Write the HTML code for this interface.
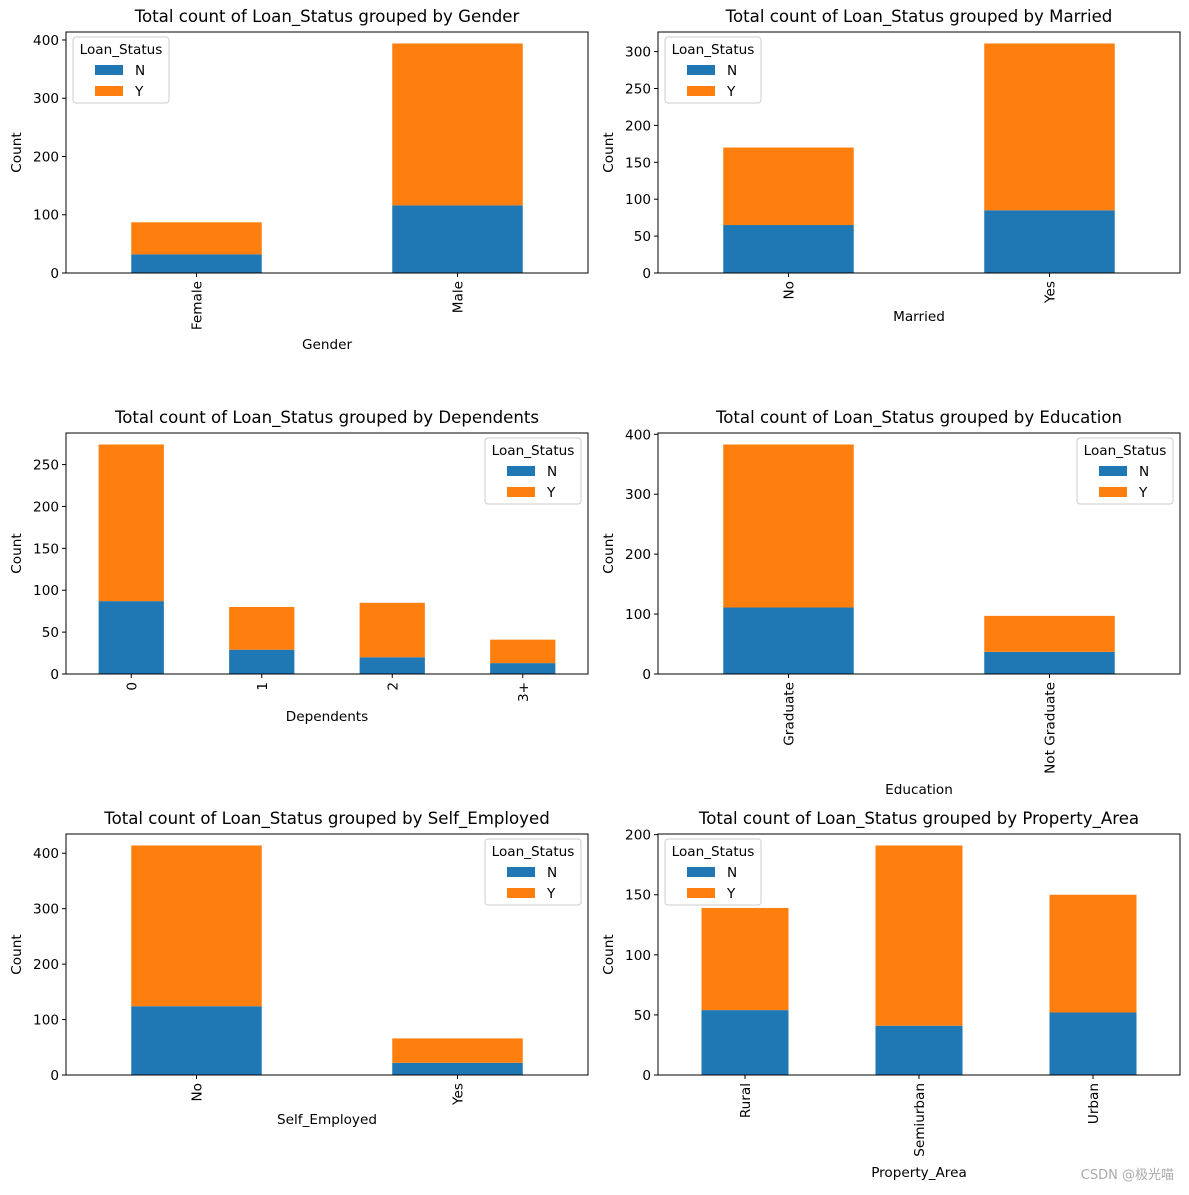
<!DOCTYPE html>
<html><head><meta charset="utf-8">
<style>
html,body{margin:0;padding:0;background:#fff;}
svg text{font-family:"DejaVu Sans","Liberation Sans","Noto Sans CJK SC",sans-serif;fill:#000;}
</style></head>
<body>
<svg id="fig" width="1189" height="1190" viewBox="0 0 1189 1190" xmlns="http://www.w3.org/2000/svg">
<rect width="1189" height="1190" fill="#fff"/>
<text x="1174" y="1179" text-anchor="end" font-size="13" style="fill:#aaa">CSDN @极光喵</text>
</svg>
<script>
const genderCats = ["Female","Male"];
const genderN = [32,116];
const genderY = [55,278];
const marriedCats = ["No","Yes"];
const marriedN = [65,85];
const marriedY = [105,226];
const depCats = ["0","1","2","3+"];
const depN = [87,29,20,13];
const depY = [187,51,65,28];
const eduCats = ["Graduate","Not Graduate"];
const eduN = [111,37];
const eduY = [272,60];
const selfCats = ["No","Yes"];
const selfN = [124,22];
const selfY = [290,44];
const propCats = ["Rural","Semiurban","Urban"];
const propN = [54,41,52];
const propY = [85,150,98];
const ticks1 = [0,100,200,300,400];
const ticks2 = [0,50,100,150,200,250,300];
const ticks3 = [0,50,100,150,200,250];
const ticks4 = [0,100,200,300,400];
const ticks5 = [0,100,200,300,400];
const ticks6 = [0,50,100,150,200];

const NS = "http://www.w3.org/2000/svg";
const svg = document.getElementById('fig');
function mk(tag, attrs, parent, txt){
  const e = document.createElementNS(NS, tag);
  for (const k in attrs) e.setAttribute(k, attrs[k]);
  if (txt !== undefined) e.textContent = txt;
  (parent||svg).appendChild(e);
  return e;
}
const FS = 13.6;
const panels = [
 {name:"gender",var:"Gender",x:66,y:32,cats:genderCats,n:genderN,yv:genderY,ticks:ticks1,leg:"left",xl:344},
 {name:"married",var:"Married",x:658,y:32,cats:marriedCats,n:marriedN,yv:marriedY,ticks:ticks2,leg:"left",xl:316},
 {name:"dependents",var:"Dependents",x:66,y:433,cats:depCats,n:depN,yv:depY,ticks:ticks3,leg:"right",xl:716},
 {name:"education",var:"Education",x:658,y:433,cats:eduCats,n:eduN,yv:eduY,ticks:ticks4,leg:"right",xl:789},
 {name:"self-employed",var:"Self_Employed",x:66,y:834,cats:selfCats,n:selfN,yv:selfY,ticks:ticks5,leg:"right",xl:1119},
 {name:"property-area",var:"Property_Area",x:658,y:834,cats:propCats,n:propN,yv:propY,ticks:ticks6,leg:"left",xl:1172}
];
const W=522, H=241;
panels.forEach(p=>{
  const g = mk('g',{});
  
  
  const totals = p.n.map((v,i)=>v+p.yv[i]);
  const ymax = Math.max(...totals)*1.05;
  const sy = v => p.y + H - v/ymax*H;
  const k = p.cats.length;
  const step = W/k;
  const bw = step*0.5;
  const cx = i => p.x + step*(i+0.5);
  const t = mk('text',{x:p.x+W/2,y:p.y-10,'text-anchor':'middle','font-size':16.6},g,'Total count of Loan_Status grouped by '+p.var);
  
  
  p.cats.forEach((c,i)=>{
    const b1 = mk('rect',{x:cx(i)-bw/2,y:sy(p.n[i]),width:bw,height:sy(0)-sy(p.n[i]),fill:'#1f77b4'},g);
    
    
    const b2 = mk('rect',{x:cx(i)-bw/2,y:sy(totals[i]),width:bw,height:sy(p.n[i])-sy(totals[i]),fill:'#ff7f0e'},g);
    
    
    mk('line',{x1:cx(i),x2:cx(i),y1:p.y+H,y2:p.y+H+4,stroke:'#000','stroke-width':1},g);
    const tl = mk('text',{transform:`translate(${cx(i)+5},${p.y+H+8}) rotate(-90)`,'text-anchor':'end','font-size':FS},g,c);
    
    
  });
  p.ticks.forEach(v=>{
    mk('line',{x1:p.x-4,x2:p.x,y1:sy(v),y2:sy(v),stroke:'#000','stroke-width':1},g);
    const tl = mk('text',{x:p.x-7,y:sy(v)+5,'text-anchor':'end','font-size':FS},g,String(v));
    
    
  });
  const ax = mk('rect',{x:p.x,y:p.y,width:W,height:H,fill:'none',stroke:'#000','stroke-width':1},g);
  
  
  const yl = mk('text',{transform:`translate(${p.x-45},${p.y+H/2}) rotate(-90)`,'text-anchor':'middle','font-size':FS},g,'Count');
  
  
  const xl = mk('text',{x:p.x+W/2,y:p.xl+5,'text-anchor':'middle','font-size':FS},g,p.var);
  
  
  const lx = p.leg==='left' ? p.x+7 : p.x+W-103;
  const ly = p.y+5;
  const lg = mk('g',{},g);
  
  
  mk('rect',{x:lx,y:ly,width:96,height:66,rx:3,fill:'#fff','fill-opacity':0.8,stroke:'#ccc'},lg);
  mk('text',{x:lx+48,y:ly+17,'text-anchor':'middle','font-size':FS},lg,'Loan_Status');
  [['N','#1f77b4'],['Y','#ff7f0e']].forEach((e,j)=>{
    const le = mk('g',{},lg);
    
    
    mk('rect',{x:lx+22,y:ly+28+j*21,width:28,height:10,fill:e[1]},le);
    mk('text',{x:lx+62,y:ly+38+j*21,'font-size':FS},le,e[0]);
  });
});
</script>
</body></html>
